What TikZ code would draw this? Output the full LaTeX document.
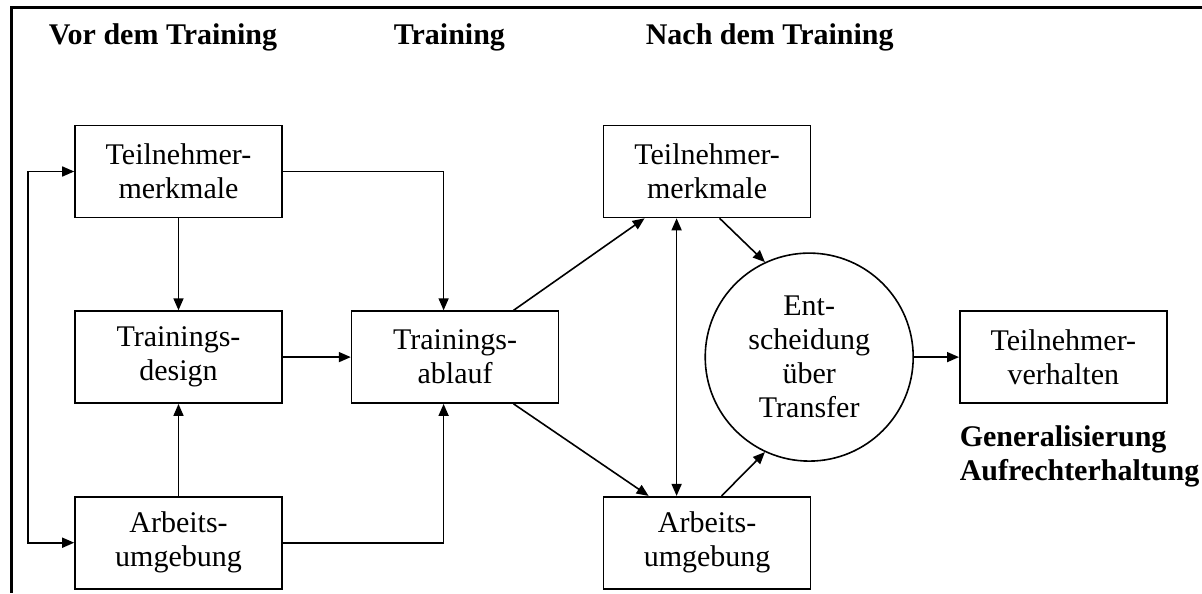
\documentclass[tikz,border=0pt]{standalone}
\usepackage{fontspec}
\setmainfont{Liberation Serif}
\usepackage{tikz}
\usetikzlibrary{arrows.meta,shapes,positioning}

\begin{document}
\begin{tikzpicture}[x=0.5pt, y=-0.5pt, thick,
    >={Triangle[length=6pt,width=5pt]},
    box/.style={draw, rectangle, minimum width=103.5pt, minimum height=46pt,
        align=center, font=\fontsize{15}{17}\selectfont, inner sep=2pt},
    head/.style={anchor=base west, font=\fontsize{15}{17}\selectfont\bfseries, inner sep=0pt}]
    \useasboundingbox (0,0) rectangle (1202,593);

    % Frame
    \draw[line width=1.5pt] (1202,8) -- (11,8) -- (11,593);

    % Phase headings
    \node[head] (hvor) at (48,45) {Vor dem Training};
    \node[head] (htr) at (393,45) {Training};
    \node[head] (hnach) at (645,45) {Nach dem Training};

    % Before the training
    \node[box] (tm1) at (178.5,171.5) {Teilnehmer-\\merkmale};
    \node[box, below=46pt of tm1] (design) {Trainings-\\design};
    \node[box, below=46pt of design] (au1) {Arbeits-\\umgebung};

    % Training
    \node[box, right=34pt of design] (ablauf) {Trainings-\\ablauf};

    % After the training
    \node[box, right=160pt of tm1] (tm2) {Teilnehmer-\\merkmale};
    \node[box, right=160pt of au1] (au2) {Arbeits-\\umgebung};
    \node[draw, circle, minimum size=104pt, inner sep=0pt, align=center,
        font=\fontsize{15}{17}\selectfont, right=72.5pt of ablauf] (dec)
        {Ent-\\scheidung\\über\\Transfer};
    \node[box, right=22.5pt of dec] (verhalten) {Teilnehmer-\\verhalten};
    \node[align=left, inner sep=0pt, font=\fontsize{15}{17}\selectfont\bfseries,
        below right=10.5pt and 0pt of verhalten.south west] (gen)
        {Generalisierung\\Aufrechterhaltung};

    % Connections
    \draw[<->] (tm1.west) -- ++(-23pt,0) |- (au1.west);
    \draw[->] (tm1) -- (design);
    \draw[->] (au1) -- (design);
    \draw[->] (design) -- (ablauf);
    \draw[->] (tm1.east) -| ([xshift=-5.75pt]ablauf.north);
    \draw[->] (au1.east) -| ([xshift=-5.75pt]ablauf.south);
    \draw[->] ([xshift=29.25pt]ablauf.north) -- ([xshift=-31.25pt]tm2.south);
    \draw[->] ([xshift=29.25pt]ablauf.south) -- ([xshift=-29.25pt]au2.north);
    \draw[<->] ([xshift=-15.25pt]tm2.south) -- ([xshift=-15.25pt]au2.north);
    \draw[->] ([xshift=6.25pt]tm2.south) -- (dec.115);
    \draw[->] ([xshift=7.25pt]au2.north) -- (dec.-115);
    \draw[->] (dec) -- (verhalten);
\end{tikzpicture}
\end{document}
